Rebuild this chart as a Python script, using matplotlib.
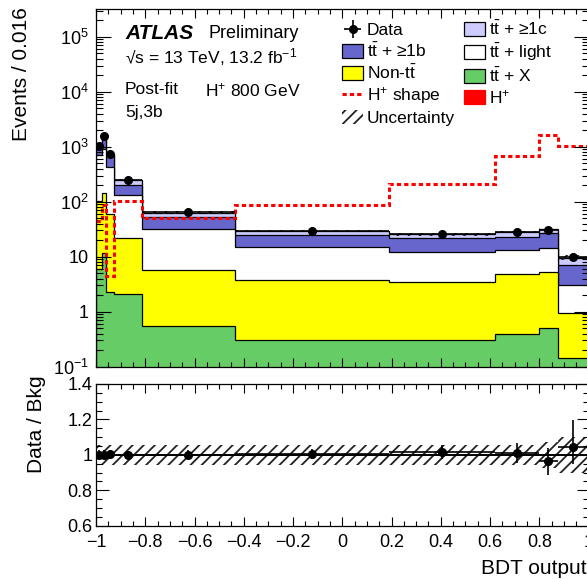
import numpy as np
import matplotlib
matplotlib.use('Agg')
import matplotlib.pyplot as plt
from matplotlib.patches import Patch
from matplotlib.lines import Line2D
from matplotlib.ticker import FixedLocator, FixedFormatter, MultipleLocator, LogLocator, NullFormatter, FuncFormatter

plt.rcParams['font.family'] = ['Liberation Sans', 'DejaVu Sans']
plt.rcParams['mathtext.fontset'] = 'custom'
plt.rcParams['mathtext.rm'] = 'Liberation Sans'
plt.rcParams['mathtext.it'] = 'Liberation Sans:italic'
plt.rcParams['mathtext.bf'] = 'Liberation Sans:bold'
plt.rcParams['mathtext.default'] = 'regular'
plt.rcParams['hatch.linewidth'] = 1.3

# bin edges of the BDT output
edges = np.array([-1.0, -0.975, -0.96, -0.925, -0.815, -0.435, 0.19, 0.62, 0.8, 0.875, 1.0])

# post-fit yields (events / 0.016), stacked bottom -> top
tt_x = [6.0, 11.5, 2.3, 2.1, 0.55, 0.30, 0.31, 0.39, 0.51, 0.146]
non_tt = [96, 131.5, 57.7, 19.9, 5.15, 3.47, 3.09, 4.41, 4.79, 0.82]
tt_light = [602, 757, 377, 110, 25.7, 11.1, 8.6, 8.7, 8.9, 2.1]
tt_1b = [276, 550, 267, 66, 22.0, 10.2, 9.8, 9.6, 12.3, 4.03]
tt_1c = [60, 150, 46, 52, 10.3, 4.3, 3.8, 5.2, 4.9, 2.5]

data = [1040, 1600, 752, 250, 63.8, 29.5, 26.0, 28.6, 30.3, 10.0]
data_err_up = [0.025, 0.026, 0.025, 0.024, 0.026, 0.03, 0.038, 0.055, 0.075, 0.15]   # relative
data_err_dn = [0.025, 0.026, 0.025, 0.024, 0.026, 0.03, 0.038, 0.055, 0.08, 0.09]
bkg_unc = [0.055, 0.055, 0.055, 0.055, 0.055, 0.055, 0.055, 0.055, 0.075, 0.10]  # relative

hplus_shape = [45, 87, 4.5, 102, 50, 87, 207, 678, 1630, 1040]

stack_colors = ['#66cc66', '#ffff00', '#ffffff', '#6666cc', '#ccccff']

W, H = 587, 579
fig = plt.figure(figsize=(W / 100, H / 100), dpi=100)

def px_box(x0, y0, x1, y1):
    return [x0 / W, 1 - y1 / H, (x1 - x0) / W, (y1 - y0) / H]

ax = fig.add_axes(px_box(96, 9, 588.5, 366.7))
rax = fig.add_axes(px_box(96, 384, 588.5, 525.7))

centers = 0.5 * (edges[1:] + edges[:-1])
half = 0.5 * np.diff(edges)

# stacked histogram, drawn from the top layer down
layers = np.array([tt_x, non_tt, tt_light, tt_1b, tt_1c], dtype=float)
cum = np.cumsum(layers, axis=0)
total = cum[-1]
for i in range(len(layers) - 1, -1, -1):
    ax.stairs(cum[i], edges, baseline=1e-3, fill=True, facecolor=stack_colors[i],
              edgecolor='black', linewidth=0.9)

unc = np.array(bkg_unc)
ax.stairs(total * (1 + unc), edges, baseline=total * (1 - unc), fill=True,
          facecolor='none', edgecolor='#222222', linewidth=0, hatch='///')

ax.stairs(hplus_shape, edges, baseline=None, color='#ff0000', linewidth=2.2,
          linestyle=(0, (1.4, 1.0)))

data = np.array(data)
dup = np.array(data_err_up)
ddn = np.array(data_err_dn)
dat = ax.errorbar(centers, data, xerr=half, yerr=[data * ddn, data * dup], fmt='o',
                  color='black', ms=5.5, lw=1.2, capsize=0)

ax.set_yscale('log')
ax.set_xlim(-1, 1)
ax.set_ylim(0.1, 3.2e5)

# ratio panel
ratio = data / total
rax.stairs(1 + unc, edges, baseline=1 - unc, fill=True, facecolor='none',
           edgecolor='#222222', linewidth=0, hatch='///')
rax.axhline(1.0, color='black', lw=1.4)
rax.errorbar(centers, ratio, xerr=half, yerr=[ratio * ddn, ratio * dup], fmt='o',
             color='black', ms=5.5, lw=1.2, capsize=0)
rax.set_xlim(-1, 1)
rax.set_ylim(0.6, 1.4)

# ticks, ROOT style
for a in (ax, rax):
    a.tick_params(which='both', direction='in', top=True, right=True, width=0.8,
                  labelsize=13)
    a.xaxis.set_major_locator(MultipleLocator(0.2))
    a.xaxis.set_minor_locator(MultipleLocator(0.05))
    a.tick_params(axis='x', which='major', length=6.5)
    a.tick_params(axis='x', which='minor', length=3.5)
    for s in a.spines.values():
        s.set_linewidth(0.9)

ax.yaxis.set_major_locator(FixedLocator([0.1, 1, 10, 100, 1e3, 1e4, 1e5]))
ax.yaxis.set_major_formatter(FixedFormatter(['$10^{-1}$', '1', '10', '$10^{2}$', '$10^{3}$',
                                             '$10^{4}$', '$10^{5}$']))
ax.yaxis.set_minor_locator(LogLocator(base=10, subs=np.arange(2, 10), numticks=20))
ax.yaxis.set_minor_formatter(NullFormatter())
ax.tick_params(axis='y', which='major', length=10.5, pad=5)
ax.tick_params(axis='y', which='minor', length=5)
ax.tick_params(axis='x', labelbottom=False)

rax.yaxis.set_major_locator(FixedLocator([0.6, 0.8, 1.0, 1.2, 1.4]))
rax.yaxis.set_major_formatter(FixedFormatter(['0.6', '0.8', '1', '1.2', '1.4']))
rax.yaxis.set_minor_locator(MultipleLocator(0.05))
rax.tick_params(axis='y', which='major', length=9, pad=2.5)
rax.tick_params(axis='y', which='minor', length=4.5)
rax.tick_params(axis='x', pad=6)
rax.xaxis.set_major_formatter(FuncFormatter(
    lambda v, p: '0' if abs(v) < 1e-9 else f'{v:g}'.replace('-', '\u2212')))

# labels
fig.text(22 / W, 1 - 7 / H, 'Events / 0.016', rotation=90, ha='center', va='top', fontsize=15)
fig.text(37 / W, 1 - 375 / H, 'Data / Bkg', rotation=90, ha='center', va='top', fontsize=15)
fig.text(1.0, 1 - 568 / H, 'BDT output', ha='right', va='center', fontsize=15)

ax.text(0.059, 0.932, 'ATLAS', transform=ax.transAxes, fontsize=15, fontweight='bold',
        fontstyle='italic', va='center')
ax.text(0.228, 0.932, 'Preliminary', transform=ax.transAxes, fontsize=13, va='center')
ax.text(0.059, 0.866, '\u221as = 13 TeV, 13.2 fb$^{-1}$', transform=ax.transAxes,
        fontsize=12.5, va='center')
ax.text(0.059, 0.774, 'Post-fit', transform=ax.transAxes, fontsize=12.5, va='center')
ax.text(0.222, 0.774, 'H$^{+}$ 800 GeV', transform=ax.transAxes, fontsize=12.5, va='center')
ax.text(0.059, 0.712, '5j,3b', transform=ax.transAxes, fontsize=12.5, va='center')

# legend
handles = [
    dat,
    Patch(facecolor=stack_colors[3], edgecolor='black', lw=0.9),
    Patch(facecolor=stack_colors[1], edgecolor='black', lw=0.9),
    Line2D([], [], color='#ff0000', lw=2.2, linestyle=(0, (1.4, 1.0))),
    Patch(facecolor='none', edgecolor='#222222', lw=0, hatch='///'),
    Patch(facecolor=stack_colors[4], edgecolor='black', lw=0.9),
    Patch(facecolor=stack_colors[2], edgecolor='black', lw=0.9),
    Patch(facecolor=stack_colors[0], edgecolor='black', lw=0.9),
    Patch(facecolor='#ff0000', edgecolor='#ff0000', lw=0.9),
]
labels = [
    'Data',
    't$\\bar{t}$ + \u22651b',
    'Non-t$\\bar{t}$',
    'H$^{+}$ shape',
    'Uncertainty',
    't$\\bar{t}$ + \u22651c',
    't$\\bar{t}$ + light',
    't$\\bar{t}$ + X',
    'H$^{+}$',
]
ax.legend(handles, labels, ncol=2, loc='upper left', bbox_to_anchor=(0.500, 0.969),
          frameon=False, fontsize=12.5, borderpad=0, borderaxespad=0,
          handlelength=1.2, handleheight=0.85, handletextpad=0.2,
          columnspacing=0.55, labelspacing=0.2)

fig.savefig('out.png', dpi=100)
